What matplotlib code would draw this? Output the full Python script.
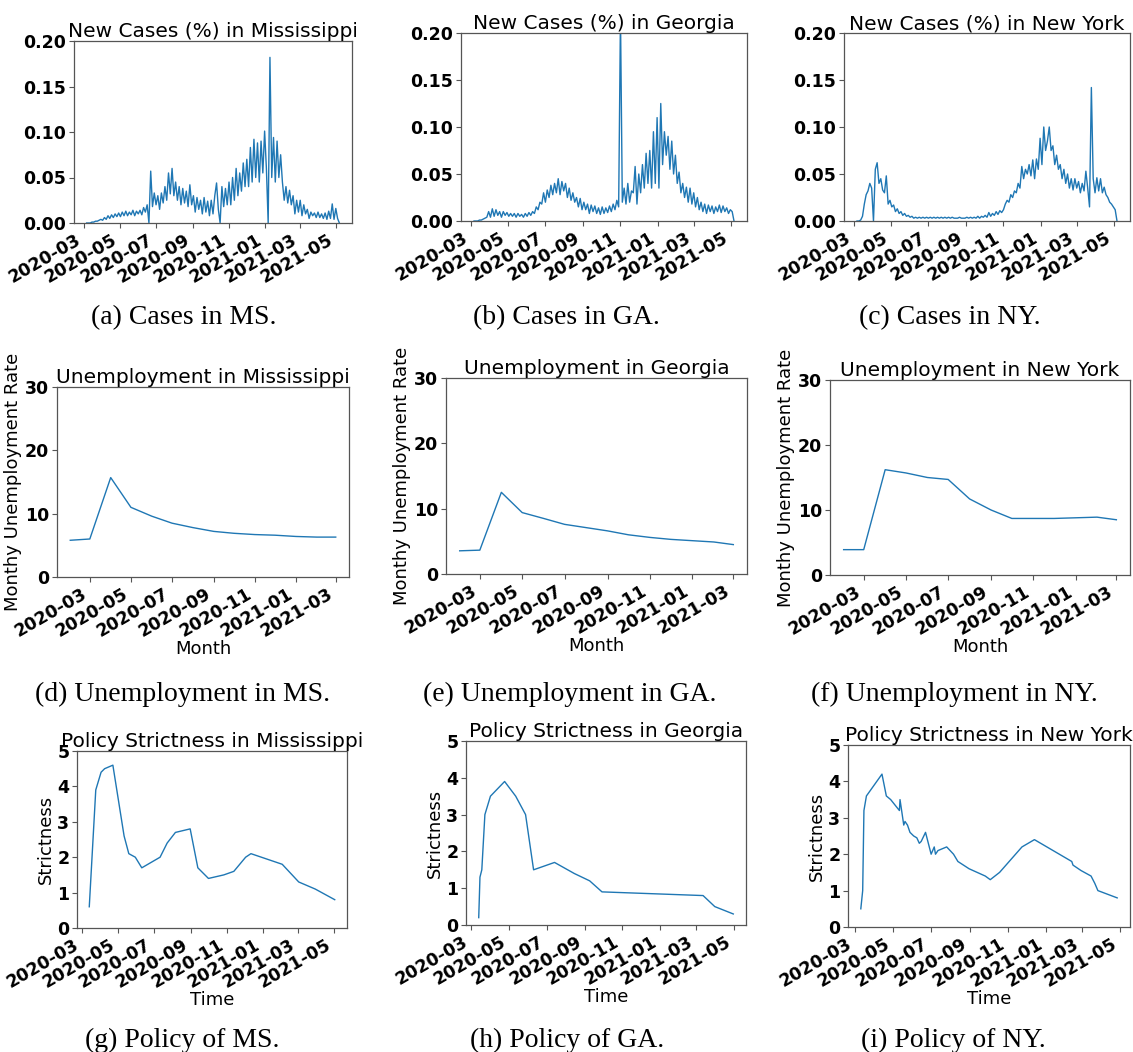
import numpy as np
import pandas as pd
import matplotlib
matplotlib.use("Agg")
import matplotlib.pyplot as plt
import matplotlib.dates as mdates

plt.rcParams["font.family"] = ["DejaVu Sans"]

# ---------------- data ----------------
case_start = "2020-03-06"
case_step = "3D"

ms_cases = [0, 0, 0, 0.001, 0.001, 0.002, 0.002, 0.003, 0.004, 0.003,
            0.006, 0.004, 0.008, 0.005, 0.009, 0.006, 0.010, 0.007, 0.011, 0.007,
            0.012, 0.008, 0.013, 0.008, 0.012, 0.009, 0.014, 0.008, 0.013, 0.010,
            0.014, 0.009, 0.017, 0.012, 0.020, 0.000, 0.057, 0.018, 0.033, 0.020,
            0.030, 0.015, 0.033, 0.022, 0.040, 0.025, 0.055, 0.032, 0.060, 0.030,
            0.045, 0.025, 0.040, 0.020, 0.038, 0.022, 0.035, 0.018, 0.042, 0.020,
            0.030, 0.012, 0.028, 0.015, 0.025, 0.010, 0.028, 0.012, 0.024, 0.008,
            0.025, 0.010, 0.030, 0.044, 0.015, 0.000, 0.040, 0.018, 0.038, 0.020,
            0.045, 0.020, 0.050, 0.025, 0.060, 0.030, 0.055, 0.035, 0.066, 0.040,
            0.070, 0.040, 0.083, 0.045, 0.092, 0.050, 0.088, 0.045, 0.090, 0.055,
            0.101, 0.060, 0.000, 0.182, 0.050, 0.094, 0.045, 0.090, 0.050, 0.075,
            0.045, 0.025, 0.040, 0.022, 0.036, 0.020, 0.030, 0.010, 0.025, 0.012,
            0.025, 0.008, 0.020, 0.010, 0.015, 0.005, 0.012, 0.008, 0.011, 0.006,
            0.012, 0.006, 0.010, 0.005, 0.011, 0.004, 0.013, 0.005, 0.021, 0.004,
            0.016, 0.005, 0.000]

ga_cases = [0, 0, 0, 0.001, 0.001, 0.002, 0.003, 0.004, 0.010, 0.004,
            0.013, 0.005, 0.012, 0.006, 0.010, 0.004, 0.010, 0.006, 0.009, 0.005,
            0.008, 0.005, 0.008, 0.004, 0.008, 0.005, 0.007, 0.004, 0.008, 0.005,
            0.009, 0.006, 0.010, 0.008, 0.015, 0.012, 0.020, 0.018, 0.030, 0.020,
            0.033, 0.025, 0.038, 0.028, 0.040, 0.030, 0.045, 0.028, 0.042, 0.032,
            0.040, 0.025, 0.035, 0.022, 0.030, 0.020, 0.025, 0.015, 0.024, 0.012,
            0.020, 0.012, 0.018, 0.008, 0.017, 0.010, 0.016, 0.008, 0.014, 0.007,
            0.015, 0.008, 0.014, 0.009, 0.016, 0.010, 0.018, 0.012, 0.022, 0.015,
            0.220, 0.020, 0.035, 0.018, 0.040, 0.020, 0.032, 0.030, 0.058, 0.018,
            0.050, 0.030, 0.060, 0.035, 0.072, 0.040, 0.075, 0.035, 0.095, 0.040,
            0.110, 0.035, 0.125, 0.060, 0.095, 0.070, 0.090, 0.055, 0.085, 0.050,
            0.070, 0.040, 0.052, 0.030, 0.040, 0.025, 0.036, 0.020, 0.035, 0.018,
            0.030, 0.015, 0.025, 0.012, 0.020, 0.010, 0.018, 0.008, 0.017, 0.010,
            0.016, 0.008, 0.015, 0.010, 0.017, 0.009, 0.016, 0.010, 0.014, 0.008,
            0.012, 0.010, 0.000]

ny_cases = [0, 0, 0.001, 0.005, 0.018, 0.028, 0.032, 0.040, 0.035, 0.000,
            0.055, 0.062, 0.040, 0.045, 0.033, 0.030, 0.048, 0.018, 0.022, 0.015,
            0.017, 0.010, 0.013, 0.008, 0.010, 0.006, 0.008, 0.005, 0.006, 0.004,
            0.005, 0.003, 0.004, 0.003, 0.004, 0.003, 0.004, 0.003, 0.004, 0.003,
            0.004, 0.003, 0.004, 0.003, 0.004, 0.003, 0.004, 0.003, 0.004, 0.003,
            0.004, 0.003, 0.004, 0.003, 0.003, 0.003, 0.004, 0.003, 0.003, 0.003,
            0.004, 0.003, 0.004, 0.003, 0.004, 0.003, 0.005, 0.003, 0.005, 0.004,
            0.006, 0.004, 0.009, 0.005, 0.008, 0.006, 0.010, 0.007, 0.011, 0.009,
            0.012, 0.018, 0.022, 0.020, 0.028, 0.025, 0.032, 0.030, 0.040, 0.035,
            0.058, 0.045, 0.055, 0.050, 0.060, 0.048, 0.065, 0.045, 0.066, 0.055,
            0.088, 0.060, 0.100, 0.075, 0.085, 0.100, 0.075, 0.080, 0.060, 0.070,
            0.055, 0.060, 0.045, 0.055, 0.040, 0.050, 0.035, 0.045, 0.033, 0.045,
            0.035, 0.042, 0.030, 0.040, 0.032, 0.053, 0.035, 0.015, 0.142, 0.045,
            0.030, 0.046, 0.032, 0.045, 0.030, 0.036, 0.028, 0.025, 0.020, 0.018,
            0.015, 0.012, 0.000]

unemp_months = ["2020-02", "2020-03", "2020-04", "2020-05", "2020-06", "2020-07",
                "2020-08", "2020-09", "2020-10", "2020-11", "2020-12", "2021-01",
                "2021-02", "2021-03"]
ms_unemp = [5.8, 6.0, 15.7, 11.0, 9.6, 8.5, 7.8, 7.2, 6.9, 6.7, 6.6, 6.4, 6.3, 6.3]
ga_unemp = [3.55, 3.65, 12.5, 9.4, 8.5, 7.6, 7.1, 6.6, 6.0, 5.6, 5.3, 5.1, 4.9, 4.5]
ny_unemp = [3.9, 3.9, 16.2, 15.7, 15.0, 14.7, 11.7, 10.0, 8.7, 8.7, 8.7, 8.8, 8.9, 8.5]

ms_policy_dates = ["2020-03-13", "2020-03-24", "2020-04-02", "2020-04-08", "2020-04-22",
                   "2020-05-11", "2020-05-19", "2020-05-30", "2020-06-10", "2020-07-11",
                   "2020-07-23", "2020-08-06", "2020-08-31", "2020-09-13", "2020-10-01",
                   "2020-10-27", "2020-11-13", "2020-11-23", "2020-12-03", "2020-12-12",
                   "2021-02-03", "2021-03-03", "2021-03-31", "2021-05-03"]
ms_policy = [0.6, 3.9, 4.4, 4.5, 4.6, 2.6, 2.1, 2.0, 1.7, 2.0, 2.4, 2.7, 2.8, 1.7,
             1.4, 1.5, 1.6, 1.8, 2.0, 2.1, 1.8, 1.3, 1.1, 0.8]

ga_policy_dates = ["2020-03-13", "2020-03-15", "2020-03-18", "2020-03-23", "2020-04-01",
                   "2020-04-24", "2020-05-12", "2020-05-28", "2020-06-10", "2020-07-14",
                   "2020-08-15", "2020-09-09", "2020-09-29", "2021-03-12", "2021-03-31",
                   "2021-04-30"]
ga_policy = [0.2, 1.3, 1.5, 3.0, 3.5, 3.9, 3.5, 3.0, 1.5, 1.7, 1.4, 1.2, 0.9, 0.8, 0.5, 0.3]

ny_policy_dates = ["2020-03-10", "2020-03-13", "2020-03-15", "2020-03-19", "2020-04-13",
                   "2020-04-20", "2020-04-27", "2020-05-11", "2020-05-12", "2020-05-18",
                   "2020-05-20", "2020-05-24", "2020-05-28", "2020-06-03", "2020-06-08",
                   "2020-06-12", "2020-06-15", "2020-06-22", "2020-07-01", "2020-07-06",
                   "2020-07-08", "2020-07-12", "2020-07-26", "2020-08-06", "2020-08-13",
                   "2020-08-31", "2020-09-26", "2020-10-04", "2020-10-19", "2020-11-24",
                   "2020-12-14", "2021-02-12", "2021-02-14", "2021-02-27", "2021-03-15",
                   "2021-03-21", "2021-03-26", "2021-04-26"]
ny_policy = [0.5, 1.0, 3.2, 3.6, 4.2, 3.6, 3.5, 3.2, 3.5, 2.8, 2.9, 2.8, 2.6, 2.5, 2.45,
             2.3, 2.35, 2.6, 2.0, 2.2, 2.0, 2.1, 2.2, 2.0, 1.8, 1.6, 1.4, 1.3, 1.5, 2.2,
             2.4, 1.8, 1.7, 1.55, 1.4, 1.2, 1.0, 0.8]

states = ["Mississippi", "Georgia", "New York"]
letters = "abcdefghi"

# ---------------- layout (pixel boxes: left, top, right, bottom) ----------------
W, H = 1133, 1052
boxes = [
    [(74, 41, 352, 223), (461, 33, 747, 221), (844, 33, 1130, 221)],
    [(57, 387, 349, 577), (446, 378, 747, 574), (830, 380, 1130, 575)],
    [(77, 751, 347, 928), (466, 741, 746, 925), (848, 745, 1130, 927)],
]
caption_pos = [
    [(184, 318), (566, 318), (950, 318)],
    [(183, 694), (570, 694), (954, 694)],
    [(182, 1040), (567, 1040), (953, 1040)],
]

fig = plt.figure(figsize=(W / 100, H / 100), dpi=100)
fig.patch.set_facecolor("white")

line_color = "#1f77b4"
TICK_FS = 12.5
TITLE_FS = 14.5
LABEL_FS = 13
CAP_FS = 20


def make_ax(box):
    l, t, r, b = box
    return fig.add_axes([l / W, 1 - b / H, (r - l) / W, (b - t) / H])


def style(ax):
    for s in ax.spines.values():
        s.set_color("#555555")
        s.set_linewidth(0.9)
    ax.xaxis.set_major_locator(mdates.MonthLocator(bymonth=[1, 3, 5, 7, 9, 11]))
    ax.xaxis.set_major_formatter(mdates.DateFormatter("%Y-%m"))
    ax.tick_params(axis="both", labelsize=TICK_FS, colors="#555555", labelcolor="black",
                   length=3.5, width=0.8, pad=2)
    for lab in ax.get_xticklabels() + ax.get_yticklabels():
        lab.set_fontweight("bold")
    for lab in ax.get_xticklabels():
        lab.set_rotation(30)
        lab.set_ha("right")


case_series = [ms_cases, ga_cases, ny_cases]
unemp_series = [ms_unemp, ga_unemp, ny_unemp]
policy_series = [(ms_policy_dates, ms_policy), (ga_policy_dates, ga_policy),
                 (ny_policy_dates, ny_policy)]

for j in range(3):
    # cases
    ax = make_ax(boxes[0][j])
    vals = case_series[j]
    dates = pd.date_range(case_start, periods=len(vals), freq=case_step)
    ax.plot(dates, vals, color=line_color, lw=1.0)
    ax.set_ylim(0, 0.2)
    ax.set_yticks([0, 0.05, 0.10, 0.15, 0.20])
    ax.yaxis.set_major_formatter(matplotlib.ticker.FormatStrFormatter("%.2f"))
    ax.set_title(f"New Cases (%) in {states[j]}", fontsize=TITLE_FS, pad=1)
    style(ax)

    # unemployment
    ax = make_ax(boxes[1][j])
    ax.plot(pd.to_datetime(unemp_months), unemp_series[j], color=line_color, lw=1.0)
    ax.set_ylim(0, 30)
    ax.set_yticks([0, 10, 20, 30])
    ax.set_title(f"Unemployment in {states[j]}", fontsize=TITLE_FS, pad=1)
    ax.set_xlabel("Month", fontsize=LABEL_FS, labelpad=0)
    ax.set_ylabel("Monthy Unemployment Rate", fontsize=LABEL_FS, labelpad=2)
    style(ax)

    # policy
    ax = make_ax(boxes[2][j])
    pdates, pvals = policy_series[j]
    ax.plot(pd.to_datetime(pdates), pvals, color=line_color, lw=1.0)
    ax.set_ylim(0, 5)
    ax.set_yticks([0, 1, 2, 3, 4, 5])
    ax.set_title(f"Policy Strictness in {states[j]}", fontsize=TITLE_FS, pad=1)
    ax.set_xlabel("Time", fontsize=LABEL_FS, labelpad=0)
    ax.set_ylabel("Strictness", fontsize=LABEL_FS, labelpad=2)
    style(ax)

caption_text = [
    [f"({letters[0]}) Cases in MS.", f"({letters[1]}) Cases in GA.", f"({letters[2]}) Cases in NY."],
    [f"({letters[3]}) Unemployment in MS.", f"({letters[4]}) Unemployment in GA.",
     f"({letters[5]}) Unemployment in NY."],
    [f"({letters[6]}) Policy of MS.", f"({letters[7]}) Policy of GA.", f"({letters[8]}) Policy of NY."],
]
for r in range(3):
    for c in range(3):
        x, y = caption_pos[r][c]
        fig.text(x / W, 1 - y / H, caption_text[r][c], ha="center", va="center",
                 fontsize=CAP_FS, family="Liberation Serif")

fig.savefig("out.png", dpi=100, facecolor="white")
